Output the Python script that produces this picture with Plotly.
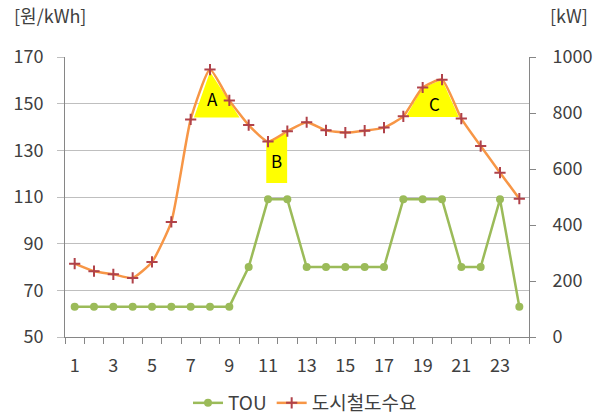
import plotly.graph_objects as go

# Hour of day
hours = list(range(1, 25))

# TOU tariff [원/kWh] (left axis)
tou = [63, 63, 63, 63, 63, 63, 63, 63, 63, 80, 109, 109,
       80, 80, 80, 80, 80, 109, 109, 109, 80, 80, 109, 63]

# Urban railway demand [kW] (right axis)
demand = [262, 235, 224, 211, 268, 411, 777, 955, 845, 757, 698, 735,
          767, 738, 730, 737, 748, 788, 891, 919, 780, 682, 587, 494]

x_tick_labels = [str(h) for h in range(1, 24, 2)]

# Highlighted regions (hour, kW) and their labels
region_a = [(7.17, 784), (8.0, 947), (9.53, 784)]
region_b = [(10.91, 698), (10.91, 550), (11.99, 550), (11.99, 729)]
region_c = [(18.12, 786), (19.0, 891), (20.0, 919), (20.87, 786)]
region_labels = [("A", 8.11, 851), ("B", 11.43, 631), ("C", 19.62, 834)]

FONT = "Noto Sans CJK KR"
TEXT = "#404040"
GRID = "#BFBFBF"
AXIS = "#868686"
FS = 18

# Plot-area geometry in pixels, used to place the unit labels and legend
W, H = 601, 418
ML, MR, MT, MB = 65, 72, 57, 81
PW, PH = W - ML - MR, H - MT - MB

fig = go.Figure()

# Yellow highlight polygons, drawn first so they sit under the lines
for pts in (region_a, region_b, region_c):
    xs = [p[0] for p in pts] + [pts[0][0]]
    ys = [p[1] for p in pts] + [pts[0][1]]
    fig.add_trace(go.Scatter(
        x=xs, y=ys, mode="lines", fill="toself", fillcolor="#FFFF00",
        line=dict(width=0, color="#FFFF00"), hoverinfo="skip",
        showlegend=False, yaxis="y2",
    ))

fig.add_trace(go.Scatter(
    x=hours, y=tou, name="TOU", mode="lines+markers",
    line=dict(color="#9BBB59", width=2.5),
    marker=dict(symbol="circle", size=8, color="#9BBB59"),
    yaxis="y",
))
fig.add_trace(go.Scatter(
    x=hours, y=demand, name="도시철도수요", mode="lines+markers",
    line=dict(color="#F79646", width=2.5, shape="spline", smoothing=0.5),
    marker=dict(symbol="cross-thin", size=8,
                line=dict(color="#B0424A", width=2)),
    yaxis="y2",
))

for txt, hx, kw in region_labels:
    fig.add_annotation(x=hx, y=kw, xref="x", yref="y2", text=txt,
                       showarrow=False,
                       font=dict(family=FONT, size=17, color="#000000"))

# Unit labels above each y axis
fig.add_annotation(x=(12 - ML) / PW, y=1 + (MT - 15) / PH, xref="paper", yref="paper",
                   text="[원/kWh]", showarrow=False,
                   xanchor="left", yanchor="middle",
                   font=dict(family=FONT, size=FS, color=TEXT))
fig.add_annotation(x=(548 - ML) / PW, y=1 + (MT - 15) / PH, xref="paper", yref="paper",
                   text="[kW]", showarrow=False,
                   xanchor="left", yanchor="middle",
                   font=dict(family=FONT, size=FS, color=TEXT))

fig.update_layout(
    width=W, height=H,
    margin=dict(l=ML, r=MR, t=MT, b=MB, autoexpand=False),
    paper_bgcolor="white", plot_bgcolor="white",
    font=dict(family=FONT, size=FS, color=TEXT),
    showlegend=True,
    legend=dict(orientation="h", x=(305 - ML) / PW, y=-(403 - (MT + PH)) / PH,
                xanchor="center", yanchor="middle",
                font=dict(family=FONT, size=19, color=TEXT),
                traceorder="normal"),
    xaxis=dict(
        range=[0.5, 24.5], tickmode="array",
        tickvals=list(range(1, 24, 2)), ticktext=x_tick_labels,
        ticks="", showgrid=False, zeroline=False,
        showline=True, linecolor=AXIS, linewidth=1,
        minor=dict(tickvals=[h + 0.5 for h in range(0, 25)], ticks="outside",
                   ticklen=6, tickcolor=AXIS, showgrid=False),
        ticklabelstandoff=12,
        tickfont=dict(family=FONT, size=FS, color=TEXT),
    ),
    yaxis=dict(
        range=[50, 170], dtick=20, tick0=50,
        showgrid=True, gridcolor=GRID, gridwidth=1, zeroline=False,
        showline=True, linecolor=AXIS, linewidth=1,
        ticks="outside", ticklen=7, tickcolor=GRID,
        ticklabelstandoff=10,
        tickfont=dict(family=FONT, size=FS, color=TEXT),
    ),
    yaxis2=dict(
        range=[0, 1000], dtick=200, tick0=0,
        overlaying="y", side="right", showgrid=False, zeroline=False,
        showline=True, linecolor=AXIS, linewidth=1,
        ticks="outside", ticklen=6, tickcolor=AXIS,
        ticklabelstandoff=13,
        tickfont=dict(family=FONT, size=FS, color=TEXT),
    ),
)

fig.write_html("out.html")
